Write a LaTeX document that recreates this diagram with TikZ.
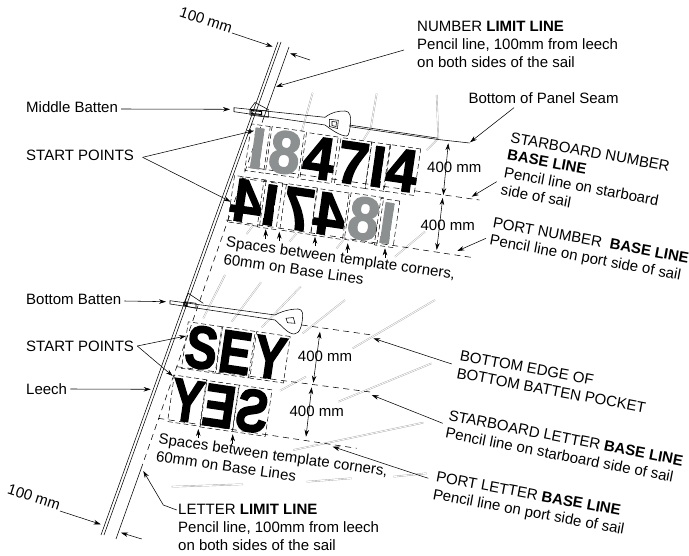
\documentclass[tikz,border=0pt]{standalone}
\usepackage{fontspec}
\setmainfont{Liberation Sans}
\newfontfamily\sailfont[FakeBold=2.5]{Liberation Sans Bold}
\usetikzlibrary{arrows.meta}
\definecolor{sailgray}{HTML}{8C9091}
\definecolor{seamgray}{HTML}{A8A8A8}
\newcommand{\dg}[1]{\scalebox{.93}[1]{#1}}
\newcommand{\lt}[1]{\scalebox{.8}[1]{#1}}
\tikzset{
  x=1pt,y=-1pt,
  lbl/.style={inner sep=0pt,align=left,font=\fontsize{15}{17.8}\selectfont},
  rot/.style={lbl,anchor=north west,rotate=#1},
  thin line/.style={line width=0.55pt,black},
  arr/.style={thin line,-{Stealth[length=7pt,width=4.5pt]}},
  dbl/.style={thin line,{Stealth[length=7pt,width=4.5pt]}-{Stealth[length=7pt,width=4.5pt]}},
  dashline/.style={thin line,dash pattern=on 6pt off 4.5pt},
  seam/.style={draw=seamgray,line width=0.4pt,double=white,double distance=0.8pt},
  boxline/.style={line width=0.5pt,black,dash pattern=on 5pt off 3pt},
  glyph/.style={inner sep=0pt,text height=41.5pt,text depth=0pt,rotate=-8.3,
    font=\sailfont\fontsize{60}{60}\selectfont},
  templ/.style={glyph,draw,boxline,minimum width=#1,minimum height=47pt},
}
\newcommand{\sailbar}[6]{% name, x, y, colour, glyph offset, glyph
  \node[templ=19pt] (#1b) at (#2,#3) {};
  \begin{scope}[shift={(#2,#3)},rotate=-8.3]
    \clip (-4.8,-20.5) rectangle (4.8,20.5);
    \node[inner sep=0pt,text height=41.5pt,text depth=0pt,text=#4,
      font=\sailfont\fontsize{60}{60}\selectfont,transform shape] (#1) at (#5,0) {#6};
  \end{scope}}
\begin{document}
\begin{tikzpicture}
\useasboundingbox (0,0) rectangle (689,556);
% ---------- seams
\draw[seam] (312.7,92.7) -- (301.7,131.7);
\draw[seam] (376.7,93.3) -- (370.7,128.3) -- (363.3,140);
\draw[seam] (436.7,95) -- (438.3,138.3) -- (426.7,150);
\draw[seam] (253.3,225) -- (246.7,234);
\draw[seam] (296.7,233.3) -- (289.3,241.7);
\draw[seam] (343.3,240) -- (336.7,248.3);
\draw[seam] (425,231.7) -- (395,256.7);
\draw[seam] (225,275) -- (203.3,318.3);
\draw[seam] (261,282.3) -- (231.7,321.7);
\draw[seam] (300.7,286.7) -- (261.7,327.3);
\draw[seam] (345,300) -- (302.7,333.3);
\draw[seam] (435,300) -- (352.7,348.3);
\draw[seam] (306,376.7) -- (280,390.7);
\draw[seam] (431.7,363.3) -- (338.3,401.7);
\draw[seam] (423.3,422.7) -- (293.3,450);
\draw[seam] (426.7,473.3) -- (393.3,476.7);
\draw[seam] (351.7,478.3) -- (306.7,481.7);
\draw[seam] (171.7,486.7) -- (243,484.3);
% ---------- leech and limit line
\draw[thin line] (278,42) -- (101,535);
\draw[thin line] (281,42) -- (104,535);
\draw[thin line] (289,47) -- (264,117);
\draw[dashline] (264,117) -- (141,469);
\draw[thin line] (141,469) -- (116,539);
% ---------- middle batten
\draw[thin line] (234,107.7) -- (325,117.3)
  .. controls (332,112) and (338,111) .. (345,111)
  .. controls (350,111) and (351,117) .. (350.7,122)
  .. controls (350,129) and (349,136) .. (346.7,136)
  .. controls (340,136) and (332,130) .. (325,125) -- (234,111.7) -- cycle;
\draw[thin line] (329.3,119.3) -- (338.3,120.3) -- (337.5,128.5) -- (329.5,126.5) -- cycle;
\draw[thin line] (332,121.5) -- (336.5,122) -- (336,126.5) -- (332,125.5) -- cycle;
\draw[thin line] (250,109.3) -- (268.3,111) -- (268.3,117.3) -- (250,115) -- cycle;
\draw[line width=1pt] (251,110.5) -- (261.5,111.5) -- (261.5,114.5) -- (251,113.5) -- cycle;
\draw[thin line] (250,109.3) -- (255,102.5) -- (269,110);
\draw[thin line] (349,125) -- (438,138.2);
\draw[thin line] (349.4,126.6) -- (438,139.5) -- (469.7,143);
% ---------- bottom batten
\draw[thin line] (170,300.7) -- (275,315)
  .. controls (282,311) and (291,309) .. (298,309)
  .. controls (303,309) and (303,315) .. (302.5,318)
  .. controls (302,325) and (300,334) .. (294,334)
  .. controls (288,334) and (281,325) .. (275,320) -- (170,304) -- cycle;
\draw[thin line] (286,318.3) -- (293.3,317.5) -- (295,323.3) -- (287.5,322.7) -- cycle;
\draw[thin line] (185,301.7) -- (196,303.3) -- (196,308.3) -- (185,306) -- cycle;
\draw[line width=1.1pt] (184,302.5) -- (187,303) -- (187,305.5) -- (184,305) -- cycle;
\draw[thin line] (185,301.7) -- (188.3,293.3) -- (203.3,303.3);
% ---------- base lines
\draw[dashline] (248,167) -- (479.3,200);
\draw[dashline] (240,178) -- (290,185);
\draw[dashline] (226,220) -- (470.7,257.3);
\draw[dashline] (301.7,325) -- (371.7,335);
\draw[dashline] (176.7,366.7) -- (370,392);
\draw[dashline] (158.3,418.3) -- (356.7,448.3);
% ---------- number templates
\sailbar{n1}{257.5}{148.5}{sailgray}{-1.5}{\dg{1}}
\node[templ=33pt,text=sailgray] (n2) at (285,152.3) {\dg{8}};
\node[templ=32pt] (n3) at (319,158) {\dg{4}};
\node[templ=31pt] (n4) at (353,163) {\dg{7}};
\sailbar{n5}{378}{166.7}{black}{-1.5}{\dg{1}}
\node[templ=31pt] (n6) at (402,170) {\dg{4}};
\node[templ=32pt] (m1) at (247,201) {\reflectbox{\dg{4}}};
\sailbar{m2}{270}{205}{black}{1.5}{\reflectbox{\dg{1}}}
\node[templ=31pt] (m3) at (298.5,209) {\reflectbox{\dg{7}}};
\node[templ=32pt] (m4) at (330,214) {\reflectbox{\dg{4}}};
\node[templ=33pt,text=sailgray] (m5) at (364,218.5) {\reflectbox{\dg{8}}};
\sailbar{m6}{387}{223}{sailgray}{1.5}{\reflectbox{\dg{1}}}
% ---------- letter templates
\node[templ=34pt] (l1) at (201.7,347.5) {\lt{S}};
\node[templ=33pt] (l2) at (235.5,352.3) {\lt{E}};
\node[templ=34pt] (l3) at (270,357.3) {\lt{Y}};
\node[templ=33pt] (k1) at (187.3,400.7) {\reflectbox{\lt{Y}}};
\node[templ=33pt] (k2) at (219.3,406) {\reflectbox{\lt{E}}};
\node[templ=33pt] (k3) at (252.3,410.7) {\reflectbox{\lt{S}}};
% ---------- labels
\node[lbl,anchor=west] (mb) at (26,107) {Middle Batten};
\node[lbl,anchor=west] (sp1) at (26,155.5) {START POINTS};
\node[lbl,anchor=west] (bb) at (26,299) {Bottom Batten};
\node[lbl,anchor=west] (sp2) at (26,346) {START POINTS};
\node[lbl,anchor=west] (lc) at (26,389) {Leech};
\node[lbl,rotate=-18] (c1) at (206,20) {100 mm};
\node[lbl,rotate=-18] (c2) at (34,497) {100 mm};
\node[lbl,anchor=north west] (nl) at (417,21) {NUMBER \textbf{LIMIT LINE}\\Pencil line, 100mm from leech\\on both sides of the sail};
\node[lbl,anchor=west] (ps) at (468.3,97.7) {Bottom of Panel Seam};
\node[rot=-10.5] (snb) at (511.7,131.7) {STARBOARD NUMBER\\\textbf{BASE LINE}\\Pencil line on starboard\\side of sail};
\node[rot=-10.5] (pnb) at (494,216.7) {PORT NUMBER\ \ \textbf{BASE LINE}\\Pencil line on port side of sail};
\node[rot=-8] (s1) at (227,236) {Spaces between template corners,\\60mm on Base Lines};
\node[rot=-8] (s2) at (159.5,433) {Spaces between template corners,\\60mm on Base Lines};
\node[rot=-10.5] (be) at (461,350) {BOTTOM EDGE OF\\BOTTOM BATTEN POCKET};
\node[rot=-11] (slb) at (450,410) {STARBOARD LETTER \textbf{BASE LINE}\\Pencil line on starboard side of sail};
\node[rot=-10.5] (plb) at (437.3,471) {PORT LETTER \textbf{BASE LINE}\\Pencil line on port side of sail};
\node[lbl,anchor=north west] (ll) at (178,504) {LETTER \textbf{LIMIT LINE}\\Pencil line, 100mm from leech\\on both sides of the sail};
\node[lbl] (d1) at (454.3,167.3) {400 mm};
\node[lbl] (d2) at (447.7,225) {400 mm};
\node[lbl] (d3) at (325,356.7) {400 mm};
\node[lbl] (d4) at (316.7,411.7) {400 mm};
% ---------- connector ends
\coordinate (t1a) at (232,33); \coordinate (t1b) at (272.7,46.7);
\coordinate (t2a) at (310,60); \coordinate (t2b) at (290,53.3);
\coordinate (t3a) at (404,50); \coordinate (t3b) at (276,86.7);
\coordinate (t4b) at (230,109.3);
\coordinate (v1) at (142.7,157.3); \coordinate (v1a) at (254,130.7); \coordinate (v1b) at (230.7,201.7);
\coordinate (t5a) at (514,107.7); \coordinate (t5b) at (470,142.3);
\coordinate (t6a) at (496.7,181.7); \coordinate (t6b) at (471.7,196.7);
\coordinate (t7a) at (486,238.3); \coordinate (t7b) at (457.3,251);
\coordinate (h1) at (448.3,143.3); \coordinate (h2) at (443.3,195);
\coordinate (h3) at (442.7,198); \coordinate (h4) at (436.7,250);
\coordinate (h5) at (320,331.7); \coordinate (h6) at (313.3,382.7);
\coordinate (h7) at (311.7,387.3); \coordinate (h8) at (306,436.7);
\coordinate (u1) at (265.7,229.3); \coordinate (u1a) at (265.7,239);
\coordinate (u2) at (279.3,231.7); \coordinate (u2a) at (279.3,241);
\coordinate (u3) at (315,236.7); \coordinate (u3a) at (315,246);
\coordinate (u4) at (347.7,243.3); \coordinate (u4a) at (347.7,253);
\coordinate (u5) at (385,248.3); \coordinate (u5a) at (385,258);
\coordinate (u6) at (198.3,429); \coordinate (u6a) at (198.3,438);
\coordinate (u7) at (232.7,434.3); \coordinate (u7a) at (232.7,444);
\coordinate (t8b) at (166,301.7);
\coordinate (v2) at (137.3,346); \coordinate (v2a) at (186,336); \coordinate (v2b) at (172.7,376);
\coordinate (t9b) at (150.7,389.3);
\coordinate (t10a) at (451.7,364); \coordinate (t10b) at (373.3,338.3);
\coordinate (t11a) at (442.7,423.3); \coordinate (t11b) at (371.7,395);
\coordinate (t12a) at (428.3,478.3); \coordinate (t12b) at (332.7,446.7);
\coordinate (t13a) at (176.7,510); \coordinate (t13m) at (163.3,505); \coordinate (t13b) at (143.3,471);
\coordinate (t14a) at (60,511); \coordinate (t14b) at (100.7,524.3);
\coordinate (t15a) at (141.7,539); \coordinate (t15b) at (121,532.7);
% ---------- connectors
\draw[arr] (t1a) -- (t1b);
\draw[arr] (t2a) -- (t2b);
\draw[arr] (t3a) -- (t3b);
\draw[arr] (mb.east) ++(3,2) -- (t4b);
\draw[arr] (v1) -- (v1a);
\draw[arr] (v1) -- (v1b);
\draw[arr] (t5a) -- (t5b);
\draw[arr] (t6a) -- (t6b);
\draw[arr] (t7a) -- (t7b);
\draw[dbl] (h1) -- (h2);
\draw[dbl] (h3) -- (h4);
\draw[dbl] (h5) -- (h6);
\draw[dbl] (h7) -- (h8);
\draw[arr] (u1a) -- (u1);
\draw[arr] (u2a) -- (u2);
\draw[arr] (u3a) -- (u3);
\draw[arr] (u4a) -- (u4);
\draw[arr] (u5a) -- (u5);
\draw[arr] (u6a) -- (u6);
\draw[arr] (u7a) -- (u7);
\draw[arr] (bb.east) ++(3,2) -- (t8b);
\draw[arr] (v2) -- (v2a);
\draw[arr] (v2) -- (v2b);
\draw[arr] (lc.east) ++(3,0) -- (t9b);
\draw[arr] (t10a) -- (t10b);
\draw[arr] (t11a) -- (t11b);
\draw[arr] (t12a) -- (t12b);
\draw[arr] (t13a) -- (t13m) -- (t13b);
\draw[arr] (t14a) -- (t14b);
\draw[arr] (t15a) -- (t15b);
\end{tikzpicture}
\end{document}
